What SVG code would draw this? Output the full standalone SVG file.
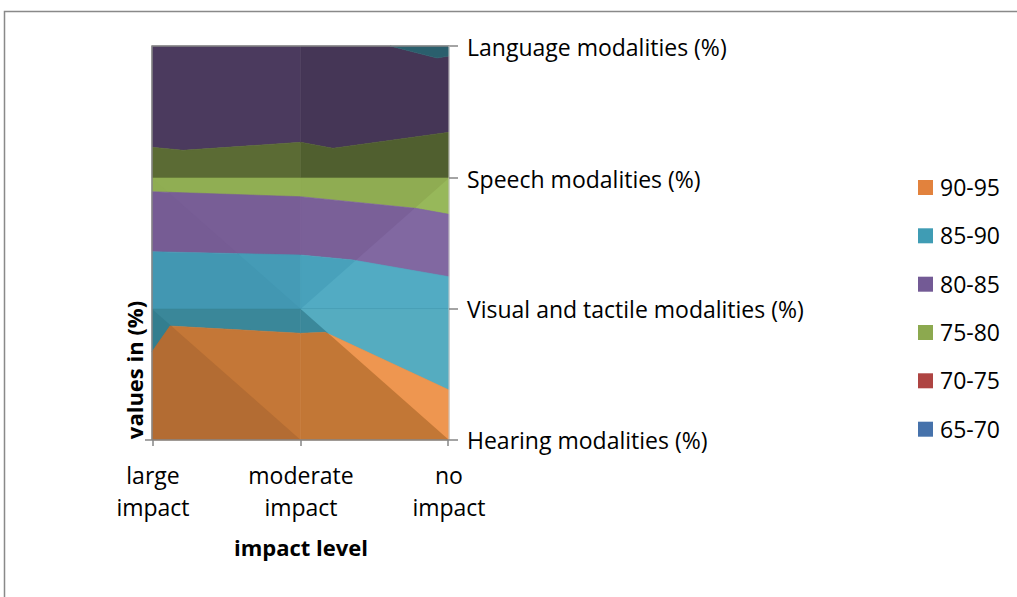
<svg xmlns="http://www.w3.org/2000/svg" width="1017" height="597" viewBox="0 0 1017 597">
<style>
  text { font-family: "Open Sans", "Liberation Sans", sans-serif; font-size: 23px; fill: #000; }
  .b { font-weight: bold; font-size: 22px; }
  .mid { text-anchor: middle; }
  polygon { stroke-width: 0.6; stroke-linejoin: round; }
  .axis { stroke: #868686; stroke-width: 1.5; fill: none; }
</style>
<defs>
  <clipPath id="cML"><polygon points="152,178 300.7,178 300.7,309"/></clipPath>
  <clipPath id="cMR"><polygon points="449,178 449,309 300.7,309"/></clipPath>
  <clipPath id="cBL"><polygon points="152,309 152,440 300.7,440"/></clipPath>
  <clipPath id="cBR"><polygon points="300.7,309 449,309 449,440"/></clipPath>
</defs>
<rect x="0" y="0" width="1017" height="597" fill="#ffffff"/>
<path d="M4.5,597 V11.5 H1017" fill="none" stroke="#898989" stroke-width="1.5"/>

<g id="surface">
  <!-- top row -->
  <polygon points="152,46 300.7,46 300.7,142.3 183,150.3 152,147.3" fill="#4b3a5e" stroke="#4b3a5e"/>
  <polygon points="152,147.3 183,150.3 300.7,142.3 300.7,178 152,178" fill="#5b6b34" stroke="#5b6b34"/>
  <polygon points="300.7,46 390,46 437,58 449,56 449,132.3 333,148.3 300.7,142.3" fill="#453656" stroke="#453656"/>
  <polygon points="390,46 449,46 449,56 437,58" fill="#2a5f6d" stroke="#2a5f6d"/>
  <polygon points="300.7,142.3 333,148.3 449,132.3 449,178 300.7,178" fill="#505f2f" stroke="#505f2f"/>

  <!-- middle row, left -->
  <polygon points="152,178 300.7,178 300.7,196.7 152,191.7" fill="#8fad52" stroke="#8fad52"/>
  <polygon points="152,191.7 300.7,196.7 300.7,255 152,251.7" fill="#765c94" stroke="#765c94"/>
  <polygon points="152,251.7 300.7,255 300.7,309 152,309" fill="#4297b2" stroke="#4297b2"/>
  <g clip-path="url(#cML)">
    <polygon points="152,178 300.7,178 300.7,196.7 152,191.7" fill="#90ae53" stroke="#90ae53"/>
    <polygon points="152,191.7 300.7,196.7 300.7,255 152,251.7" fill="#785e96" stroke="#785e96"/>
    <polygon points="152,251.7 300.7,255 300.7,309 152,309" fill="#459bb6" stroke="#459bb6"/>
  </g>

  <!-- middle row, right -->
  <polygon points="300.7,178 449,178 449,214.3 415.7,208.3 300.7,196.7" fill="#8fac52" stroke="#8fac52"/>
  <polygon points="300.7,196.7 415.7,208.3 449,214.3 449,276.7 353,260 300.7,255" fill="#7a6098" stroke="#7a6098"/>
  <polygon points="300.7,255 353,260 449,276.7 449,309 300.7,309" fill="#48a1bb" stroke="#48a1bb"/>
  <g clip-path="url(#cMR)">
    <polygon points="300.7,178 449,178 449,214.3 415.7,208.3 300.7,196.7" fill="#97b85a" stroke="#97b85a"/>
    <polygon points="300.7,196.7 415.7,208.3 449,214.3 449,276.7 353,260 300.7,255" fill="#8168a1" stroke="#8168a1"/>
    <polygon points="300.7,255 353,260 449,276.7 449,309 300.7,309" fill="#52abc3" stroke="#52abc3"/>
  </g>

  <!-- bottom row, left -->
  <polygon points="152,309 300.7,309 300.7,333.3 170,326 152,351.7" fill="#3a8799" stroke="#3a8799"/>
  <polygon points="152,351.7 170,326 300.7,333.3 300.7,440 152,440" fill="#c47737" stroke="#c47737"/>
  <g clip-path="url(#cBL)">
    <polygon points="152,309 300.7,309 300.7,333.3 170,326 152,351.7" fill="#337e8f" stroke="#337e8f"/>
    <polygon points="152,351.7 170,326 300.7,333.3 300.7,440 152,440" fill="#b36c33" stroke="#b36c33"/>
  </g>

  <!-- bottom row, right -->
  <polygon points="300.7,309 449,309 449,390 325,332.3 300.7,333.3" fill="#3b889a" stroke="#3b889a"/>
  <polygon points="300.7,333.3 325,332.3 449,390 449,440 300.7,440" fill="#c27736" stroke="#c27736"/>
  <g clip-path="url(#cBR)">
    <polygon points="300.7,309 449,309 449,390 325,332.3 300.7,333.3" fill="#55acc0" stroke="#55acc0"/>
    <polygon points="300.7,333.3 325,332.3 449,390 449,440 300.7,440" fill="#ee9650" stroke="#ee9650"/>
  </g>
</g>

<g id="axes">
  <path d="M152,440 V46 H458" class="axis" stroke="#a0a0a0"/>
  <path d="M449,46 V440" fill="none" stroke="#c8c8c8" stroke-width="1"/>
  <path d="M145,440 H458 M449,178 H458 M449,309 H458 M153,440 V446 M301,440 V446 M448,440 V446" class="axis"/>
</g>

<g id="series-labels">
  <text x="467" y="56">Language modalities (%)</text>
  <text x="467" y="188">Speech modalities (%)</text>
  <text x="467" y="318">Visual and tactile modalities (%)</text>
  <text x="467" y="449">Hearing modalities (%)</text>
</g>

<g id="category-labels">
  <text class="mid" x="153" y="484">large</text>
  <text class="mid" x="153" y="516">impact</text>
  <text class="mid" x="301" y="484">moderate</text>
  <text class="mid" x="301" y="516">impact</text>
  <text class="mid" x="449" y="484">no</text>
  <text class="mid" x="449" y="516">impact</text>
</g>

<g id="axis-titles">
  <text class="b mid" x="301" y="556">impact level</text>
  <text class="b mid" transform="translate(143,370) rotate(-90)">values in (%)</text>
</g>

<g id="legend">
  <rect x="918" y="180" width="15" height="15" fill="#e2823d"/>
  <text x="940" y="196">90-95</text>
  <rect x="918" y="228.3" width="15" height="15" fill="#3f9cb4"/>
  <text x="940" y="244.3">85-90</text>
  <rect x="918" y="276.7" width="15" height="15" fill="#735a95"/>
  <text x="940" y="292.7">80-85</text>
  <rect x="918" y="325" width="15" height="15" fill="#8ca94f"/>
  <text x="940" y="341">75-80</text>
  <rect x="918" y="373.3" width="15" height="15" fill="#ae4442"/>
  <text x="940" y="389.3">70-75</text>
  <rect x="918" y="421.7" width="15" height="15" fill="#4672ab"/>
  <text x="940" y="437.7">65-70</text>
</g>
</svg>
